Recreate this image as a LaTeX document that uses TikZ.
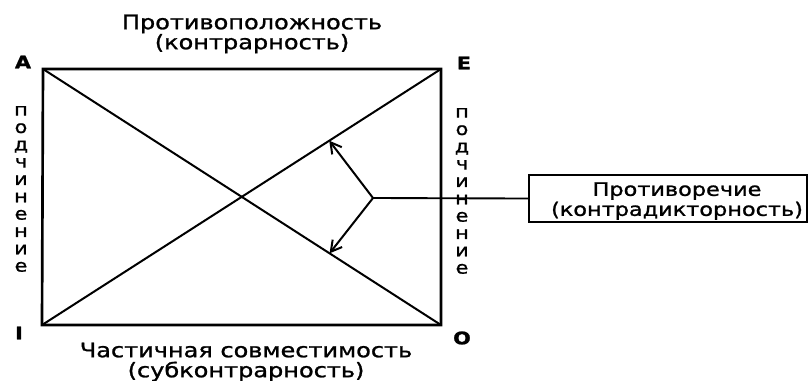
\documentclass[tikz,border=0pt]{standalone}
\usepackage{fontspec}
\setmainfont{DejaVu Sans}[FakeStretch=1.2,FakeBold=1.2]
\usetikzlibrary{arrows.meta,calc}
\begin{document}
\begin{tikzpicture}[x=0.75pt,y=-0.75pt,>={Straight Barb[length=8pt,width=9pt]},font=\fontsize{15}{15}\selectfont]
        \tikzset{side/.style={line width=2pt}, diag/.style={line width=1.5pt},
          corner/.style={font=\fontsize{13}{13}\bfseries\selectfont},
          vlabel/.style={align=center, font=\fontsize{13}{13}\selectfont},
          caption/.style={align=center, inner sep=0pt}}
        \useasboundingbox (0,0) rectangle (808,380);
        \coordinate (A) at (43,69);
        \coordinate (E) at (441,69);
        \coordinate (I) at (42,325);
        \coordinate (O) at (441,325);
        \draw[side] (A) -- (E) -- (O) -- (I) -- cycle;
        \draw[diag] (A) -- (O);
        \draw[diag] (I) -- (E);
        \node[corner] (la) at (23,62) {A};
        \node[corner] (le) at (464,63) {E};
        \node[corner] (li) at (19,333) {I};
        \node[corner] (lo) at (462,338) {O};
        \node[caption] (top) at (252,34) {Противоположность\\(контрарность)};
        \node[caption] (bot) at (246,362) {Частичная совместимость\\(субконтрарность)};
        \node[vlabel] (subl) at (21,189) {п\\о\\д\\ч\\и\\н\\е\\н\\и\\е};
        \node[vlabel] (subr) at (462,191) {п\\о\\д\\ч\\и\\н\\е\\н\\и\\е};
        \node[draw, line width=1.6pt, minimum width=278*0.75pt, minimum height=47*0.75pt, inner sep=0pt] (contra) at (668,198.5) {};
        \node[caption, font=\fontsize{14}{15}\selectfont] (ctext) at (677,201) {Противоречие\\(контрадикторность)};
        \coordinate (hinge) at (373,198);
        \coordinate (up) at ($(I)!0.72!(E)$);
        \coordinate (dn) at ($(A)!0.72!(O)$);
        \draw[line width=1.4pt] (contra.west) -- (hinge);
        \draw[->, line width=1.5pt] (hinge) -- (up);
        \draw[->, line width=1.5pt] (hinge) -- (dn);
    \end{tikzpicture}
\end{document}
